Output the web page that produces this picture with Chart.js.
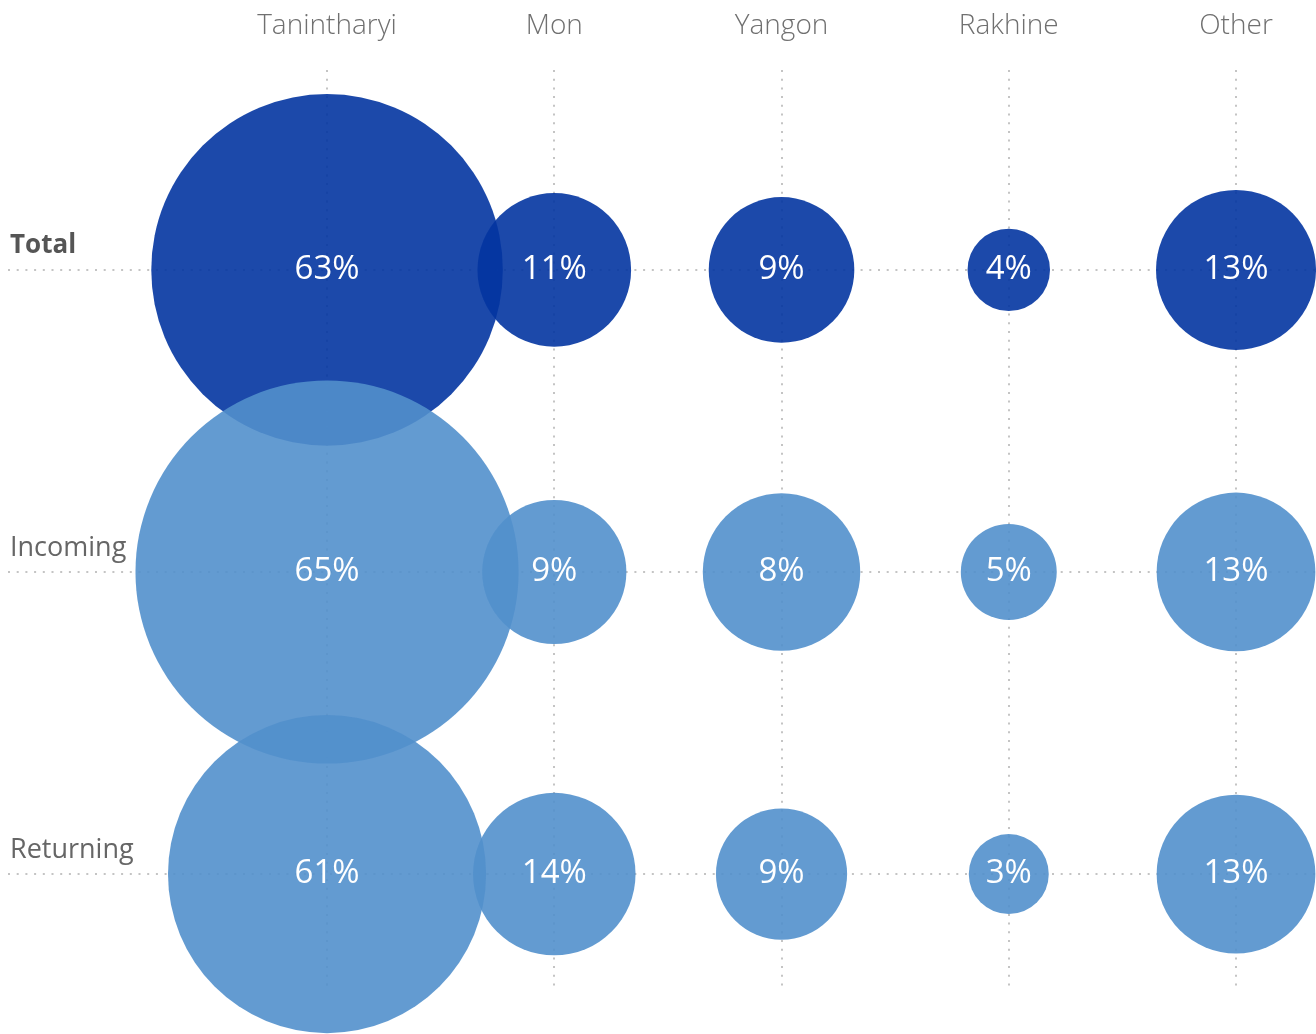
<!DOCTYPE html>
<html>
<head>
<meta charset="utf-8">
<script src="https://cdn.jsdelivr.net/npm/chart.js@4"></script>
<style>
  html, body { margin: 0; padding: 0; background: #ffffff; }
  #wrap { width: 1316px; height: 1034px; }
</style>
</head>
<body>
<div id="wrap"><canvas id="c" width="1316" height="1034"></canvas></div>
<script>
// ---- data ----
const categories = ['Tanintharyi', 'Mon', 'Yangon', 'Rakhine', 'Other'];
const rows = ['Total', 'Incoming', 'Returning'];

// percentage shown on each bubble
const totalPct     = [63, 11, 9, 4, 13];
const incomingPct  = [65, 9, 8, 5, 13];
const returningPct = [61, 14, 9, 3, 13];

// bubble size (area units)
const totalSize     = [309, 59, 53, 17, 64];
const incomingSize  = [367, 52, 62, 23, 63];
const returningSize = [253, 66, 43, 16, 63];

const pctByRow  = [totalPct, incomingPct, returningPct];
const sizeByRow = [totalSize, incomingSize, returningSize];
const rowColors = ['rgba(3, 53, 161, 0.9)', 'rgba(82, 144, 204, 0.9)', 'rgba(82, 144, 204, 0.9)'];

const RADIUS_UNIT = 10;
const FONT = "'Segoe UI', 'Open Sans', 'Noto Sans', sans-serif";

function buildPoints(rowIndex) {
  return categories.map((c, i) => ({
    x: i,
    y: rowIndex,
    r: Math.sqrt(sizeByRow[rowIndex][i]) * RADIUS_UNIT
  }));
}

const bubbleLabels = {
  id: 'bubbleLabels',
  afterDatasetsDraw(chart) {
    const ctx = chart.ctx;
    ctx.save();
    ctx.fillStyle = '#ffffff';
    ctx.textAlign = 'center';
    ctx.textBaseline = 'middle';
    ctx.font = "33px " + FONT;
    chart.data.datasets.forEach((ds, di) => {
      const meta = chart.getDatasetMeta(di);
      meta.data.forEach((el, i) => {
        ctx.fillText(pctByRow[di][i] + '%', el.x, el.y);
      });
    });
    ctx.restore();
  }
};

new Chart(document.getElementById('c'), {
  type: 'bubble',
  data: {
    datasets: rows.map((name, ri) => ({
      label: name,
      data: buildPoints(ri),
      backgroundColor: rowColors[ri],
      borderWidth: 0,
      hoverRadius: 0,
      hoverBorderWidth: 0,
      clip: false,
      order: rows.length - ri
    }))
  },
  options: {
    responsive: false,
    animation: false,
    devicePixelRatio: 1,
    layout: { autoPadding: false, padding: { top: 9, left: 4, right: 0, bottom: 43 } },
    plugins: {
      legend: { display: false },
      tooltip: { enabled: false }
    },
    scales: {
      x: {
        type: 'linear',
        position: 'top',
        min: -1.404,
        max: 4.352,
        afterBuildTicks: (axis) => { axis.ticks = categories.map((c, i) => ({ value: i })); },
        ticks: {
          callback: (v) => categories[v],
          color: '#707070',
          font: { family: FONT, size: 28, weight: 300 },
          padding: 0
        },
        grid: {
          color: '#c4c4c4', lineWidth: 2,
          drawTicks: true, tickLength: 27, tickColor: 'rgba(0,0,0,0)',
          borderDash: [2, 6.7]
        },
        border: { display: false, dash: [2, 6.7] }
      },
      y: {
        type: 'linear',
        reverse: true,
        min: -0.663,
        max: 2.387,
        afterBuildTicks: (axis) => { axis.ticks = rows.map((r, i) => ({ value: i })); },
        ticks: {
          mirror: true,
          padding: 2,
          labelOffset: -24,
          callback: (v) => rows[v],
          color: (ctx) => ctx.index === 0 ? '#555555' : '#666666',
          font: (ctx) => ctx.index === 0
            ? { family: FONT, size: 26, weight: 'bold' }
            : { family: FONT, size: 27, weight: 'normal' }
        },
        grid: { color: '#c4c4c4', lineWidth: 2, drawTicks: false, borderDash: [2, 6.7] },
        border: { display: false, dash: [2, 6.7] }
      }
    }
  },
  plugins: [bubbleLabels]
});
</script>
</body>
</html>
